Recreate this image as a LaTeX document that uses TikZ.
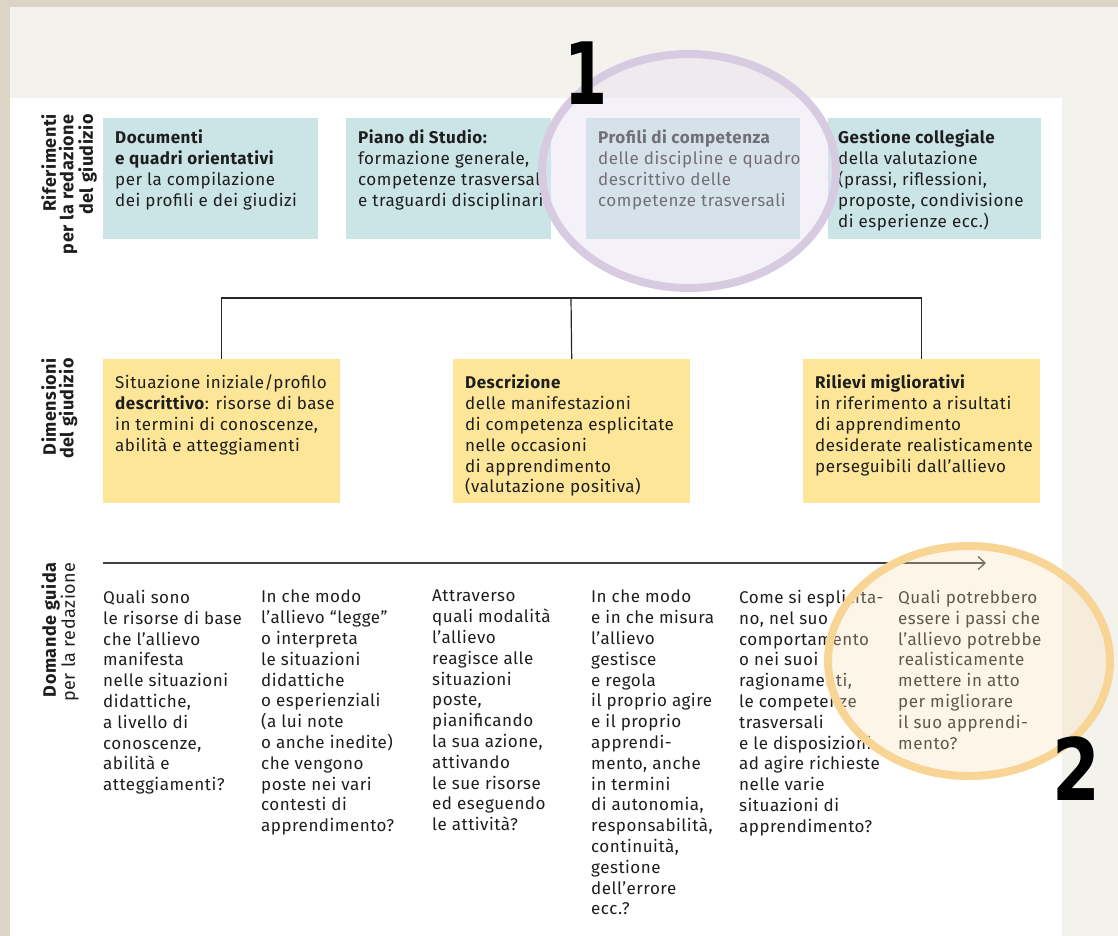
\documentclass[tikz,border=0pt]{standalone}
\usepackage{fontspec}
\setmainfont{Fira Sans}[LetterSpace=3]
\newfontfamily\numfont{DejaVu Sans}
\usetikzlibrary{arrows.meta}

\definecolor{bandbeige}{HTML}{DCD4C5}
\definecolor{paper}{HTML}{F4F2ED}
\definecolor{tealfill}{HTML}{CBE4E6}
\definecolor{yellowfill}{HTML}{FDE698}
\definecolor{ink}{HTML}{1E1E1E}
\definecolor{lilacring}{HTML}{D6CBE1}
\definecolor{lilacfill}{HTML}{E6E0EF}
\definecolor{orangering}{HTML}{F8D595}
\definecolor{orangefill}{HTML}{FAE1B4}

\tikzset{
  refbox/.style={fill=tealfill, minimum width=#1, minimum height=121pt, inner sep=0pt, anchor=north west},
  dimbox/.style={fill=yellowfill, minimum width=237pt, minimum height=144pt, inner sep=0pt, anchor=north west},
  boxtext/.style={anchor=north west, align=left, inner sep=0pt, text=ink, font=\fontsize{17}{20.8}\selectfont},
  sidelabel/.style={rotate=90, anchor=north east, align=right, inner sep=0pt, text=ink, font=\fontsize{18}{17.5}\selectfont},
  treeline/.style={draw=black!85, line width=1.2pt},
  bignum/.style={font=\numfont\bfseries\fontsize{86}{86}\selectfont, inner sep=0pt, anchor=base}
}

\begin{document}
\begin{tikzpicture}[x=1pt, y=-1pt]
\useasboundingbox (0,0) rectangle (1118,936);
% page ground
\fill[bandbeige] (0,0) rectangle (1118,936);
\fill[paper] (10,7) rectangle (1118,936);
\fill[white] (10,98) rectangle (1062,936);

% row labels
\node[sidelabel, font=\fontsize{18}{17.5}\selectfont\bfseries] (lab-rif) at (41,114) {Riferimenti\\per la redazione\\del giudizio};
\node[sidelabel, font=\fontsize{18}{17.5}\selectfont\bfseries] (lab-dim) at (41,358) {Dimensioni\\del giudizio};
\node[sidelabel] (lab-dom) at (41,562) {\textbf{Domande guida}\\per la redazione};

% references
\node[refbox=215pt] (docs) at (103,118) {};
\node[refbox=205pt] (piano) at (346,118) {};
\node[refbox=214pt] (profili) at (586,118) {};
\node[refbox=213pt] (gestione) at (828,118) {};
\node[boxtext] (docs-t) at ([shift={(12,12)}]docs.north west) {\textbf{Documenti}\\\textbf{e quadri orientativi}\\per la compilazione\\dei profili e dei giudizi};
\node[boxtext] (piano-t) at ([shift={(12,12)}]piano.north west) {\textbf{Piano di Studio:}\\formazione generale,\\competenze trasversali\\e traguardi disciplinari};
\node[boxtext] (profili-t) at ([shift={(12,12)}]profili.north west) {\textbf{Profili di competenza}\\delle discipline e quadro\\descrittivo delle\\competenze trasversali};
\node[boxtext] (gestione-t) at ([shift={(10,12)}]gestione.north west) {\textbf{Gestione collegiale}\\della valutazione\\(prassi, riflessioni,\\proposte, condivisione\\di esperienze ecc.)};

% dimensions
\node[dimbox] (situaz) at (103,359) {};
\node[dimbox] (descr) at (453,359) {};
\node[dimbox] (rilievi) at (803,359) {};
\node[boxtext] (situaz-t) at ([shift={(12,16)}]situaz.north west) {Situazione iniziale/profilo\\\textbf{descrittivo}: risorse di base\\in termini di conoscenze,\\abilità e atteggiamenti};
\node[boxtext] (descr-t) at ([shift={(12,16)}]descr.north west) {\textbf{Descrizione}\\delle manifestazioni\\di competenza esplicitate\\nelle occasioni\\di apprendimento\\(valutazione positiva)};
\node[boxtext] (rilievi-t) at ([shift={(12,16)}]rilievi.north west) {\textbf{Rilievi migliorativi}\\in riferimento a risultati\\di apprendimento\\desiderate realisticamente\\perseguibili dall’allievo};

\coordinate (hub) at (571,298);
\draw[treeline] (situaz.north) |- (hub) -| (rilievi.north);
\draw[treeline] (descr.north) -- (hub);

% guiding questions
\coordinate (qstart) at (103,563);
\coordinate (qend) at (986,563);
\draw[line width=1.3pt, draw=black!75, -{Straight Barb[length=7pt,width=13pt]}] (qstart) -- (qend);

\node[boxtext] (q1) at (103,590) {Quali sono\\le risorse di base\\che l’allievo\\manifesta\\nelle situazioni\\didattiche,\\a livello di\\conoscenze,\\abilità e\\atteggiamenti?};
\node[boxtext] (q2) at (261,590) {In che modo\\l’allievo “legge”\\o interpreta\\le situazioni\\didattiche\\o esperienziali\\(a lui note\\o anche inedite)\\che vengono\\poste nei vari\\contesti di\\apprendimento?};
\node[boxtext] (q3) at (432,590) {Attraverso\\quali modalità\\l’allievo\\reagisce alle\\situazioni\\poste,\\pianificando\\la sua azione,\\attivando\\le sue risorse\\ed eseguendo\\le attività?};
\node[boxtext] (q4) at (591,590) {In che modo\\e in che misura\\l’allievo\\gestisce\\e regola\\il proprio agire\\e il proprio\\apprendi-\\mento, anche\\in termini\\di autonomia,\\responsabilità,\\continuità,\\gestione\\dell’errore\\ecc.?};
\node[boxtext] (q5) at (739,590) {Come si esplicita-\\no, nel suo\\comportamento\\o nei suoi\\ragionamenti,\\le competenze\\trasversali\\e le disposizioni\\ad agire richieste\\nelle varie\\situazioni di\\apprendimento?};
\node[boxtext] (q6) at (898,590) {Quali potrebbero\\essere i passi che\\l’allievo potrebbe\\realisticamente\\mettere in atto\\per migliorare\\il suo apprendi-\\mento?};

% highlight 1
\fill[lilacfill, opacity=0.42] (689,171) ellipse [x radius=147pt, y radius=117pt];
\draw[lilacring, line width=8pt] (689,171) ellipse [x radius=147pt, y radius=117pt];
\node[bignum] (one) at (586,105) {\scalebox{0.72}[1]{1}};

% highlight 2
\fill[orangefill, opacity=0.3] (969,661) ellipse [x radius=141pt, y radius=115pt];
\draw[orangering, line width=8pt] (969,661) ellipse [x radius=141pt, y radius=115pt];
\node[bignum] (two) at (1076,800) {\scalebox{0.8}[1]{2}};
\end{tikzpicture}
\end{document}
